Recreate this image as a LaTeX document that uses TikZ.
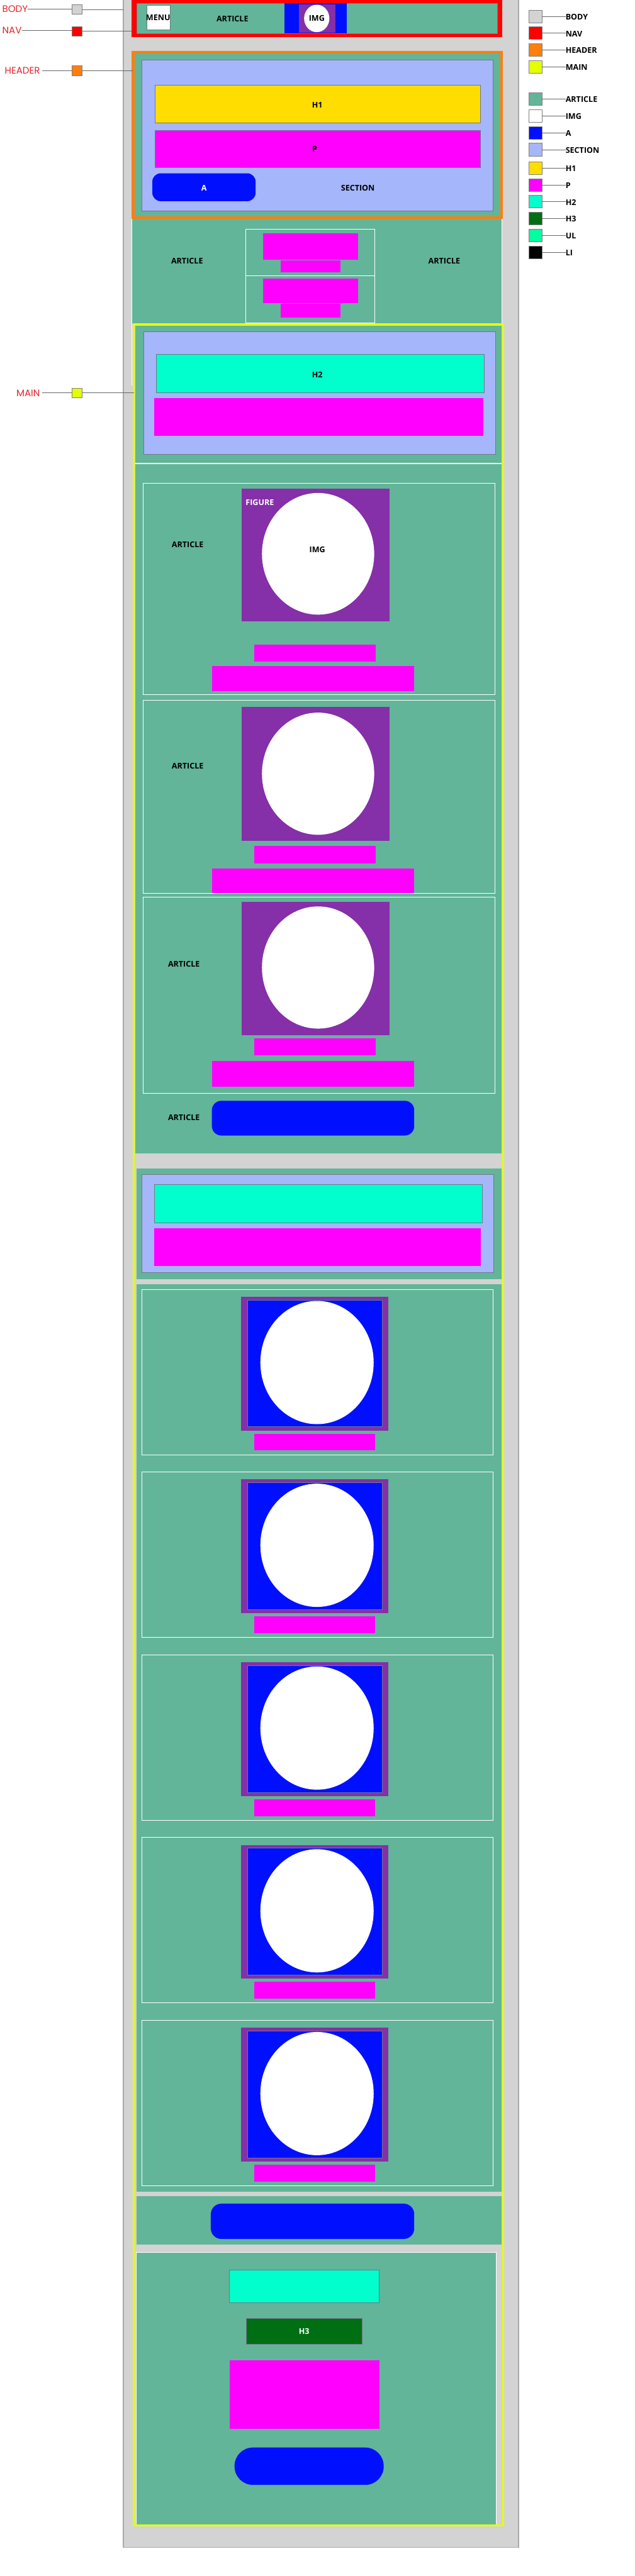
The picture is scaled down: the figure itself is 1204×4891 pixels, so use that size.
\documentclass[tikz,border=0pt]{standalone}
\usepackage{fontspec}
\setmainfont{Open Sans}
\newfontfamily\labfont{Poppins}
\usetikzlibrary{shapes.geometric}
\definecolor{bodyc}{HTML}{D3D3D3}
\definecolor{bodyline}{HTML}{A9A9A9}
\definecolor{navc}{HTML}{FF0000}
\definecolor{headc}{HTML}{FF7F0E}
\definecolor{mainc}{HTML}{E5FF00}
\definecolor{artc}{HTML}{62B598}
\definecolor{ac}{HTML}{0010FF}
\definecolor{secc}{HTML}{A6B6FB}
\definecolor{hac}{HTML}{FFDD00}
\definecolor{pc}{HTML}{FF00FF}
\definecolor{hbc}{HTML}{00FFCC}
\definecolor{hcc}{HTML}{006F14}
\definecolor{ulc}{HTML}{00FFA0}
\definecolor{figc}{HTML}{852FA8}
\definecolor{edge}{HTML}{707888}
\definecolor{labred}{HTML}{E3242B}
\tikzset{
  blk/.style={rectangle, inner sep=0pt, outer sep=0pt},
  thin edge/.style={draw=edge, line width=0.6pt},
  lbl/.style={font=\bfseries\fontsize{15}{18}\selectfont, text=black, inner sep=0pt},
  sidelbl/.style={font=\labfont\fontsize{18}{20}\selectfont, text=labred, inner sep=0pt},
  sub/.style={draw=white, line width=1.2pt},
  oval/.style={ellipse, fill=white, inner sep=0pt, outer sep=0pt},
  conn/.style={draw=gray!80!black, line width=0.8pt},
  legbox/.style={blk, draw=gray, line width=0.8pt, minimum width=24pt, minimum height=24pt},
}
\newcommand\bx[6]{\node[blk,#2,minimum width={(#5)-(#3)},minimum height={(#6)-(#4)}] (#1) at ({(#3+#5)/2},{(#4+#6)/2}) {};}
\newcommand\ov[5]{\node[oval,minimum width={(#4)-(#2)},minimum height={(#5)-(#3)}] (#1) at ({(#2+#4)/2},{(#3+#5)/2}) {};}
\begin{document}
\begin{tikzpicture}[x=1pt,y=-1pt]
\useasboundingbox (0,0) rectangle (1204,4891);
\fill[white] (0,0) rectangle (1204,4891);
% BODY
\bx{body}{fill=bodyc,draw=bodyline,line width=1.5pt}{234}{-3}{984}{4837}
% NAV
\bx{nav}{fill=navc}{250}{-1}{953}{70}
\bx{navart}{fill=artc,thin edge}{259}{6}{944}{63}
\bx{menu}{fill=white,thin edge}{278}{10}{323}{56}
\node[lbl] (menut) at (300,33) {MENU};
\node[lbl] (navartt) at (441,36) {ARTICLE};
\bx{nava}{fill=ac}{540}{6}{658}{63}
\bx{navfig}{fill=figc}{567}{8}{637}{62}
\ov{navimg}{577}{9}{625}{61}
\node[lbl] (navimgt) at (601,35) {IMG};
% HEADER
\bx{header}{fill=artc,draw=headc,line width=5pt}{252.5}{99.5}{951.5}{413.5}
\bx{hsec}{fill=secc,thin edge}{269}{114}{935}{400}
\bx{hh1}{fill=hac,thin edge}{294}{162}{911}{233}
\node[lbl] (hh1t) at (602,199) {H1};
\bx{hp}{fill=pc,thin edge}{294}{247}{911}{318}
\node[lbl] (hpt) at (597,283) {P};
\bx{ha}{fill=ac,rounded corners=16pt}{289}{329}{485}{382}
\node[lbl,text=white] (hat) at (387,357) {A};
\node[lbl] (hsect) at (679,357) {SECTION};
% article after header
\bx{art0}{fill=artc}{250}{416}{952}{615}
\draw[white,line width=1.2pt] (250,416) -- (250,732);
\draw[white,line width=1.2pt] (952,416) -- (952,615);
\node[lbl] (art0l) at (355,495) {ARTICLE};
\node[lbl] (art0r) at (843,495) {ARTICLE};
\bx{m1}{sub}{466}{435}{711}{524}
\bx{m2}{sub}{466}{524}{711}{613}
\bx{m1a}{fill=pc}{499}{443}{680}{493}
\bx{m1b}{fill=pc}{532}{494}{646}{517}
\bx{m2a}{fill=pc}{499}{529}{680}{576}
\bx{m2b}{fill=pc}{532}{577}{646}{603}
% MAIN articles
\bx{a1}{fill=artc}{257}{618}{952}{880}
\bx{a1sec}{fill=secc,thin edge}{272}{629}{940}{862}
\bx{a1h2}{fill=hbc,thin edge}{297}{673}{919}{745}
\node[lbl] (a1h2t) at (602,712) {H2};
\bx{a1p}{fill=pc}{293}{756}{917}{828}
\draw[white,line width=1.5pt] (257,880) -- (952,880);
\bx{a2}{fill=artc}{257}{881}{952}{2190}
% sub articles with figures
\bx{s1}{sub}{272}{918}{939}{1319}
\bx{s1fig}{fill=figc}{459}{928}{739}{1180}
\ov{s1img}{497}{936}{710}{1167}
\node[lbl,text=white,anchor=west] (s1figt) at (466,954) {FIGURE};
\node[lbl] (s1imgt) at (602,1044) {IMG};
\node[lbl] (s1t) at (356,1034) {ARTICLE};
\bx{s1pa}{fill=pc}{483}{1224}{713}{1256}
\bx{s1pb}{fill=pc}{402}{1265}{786}{1312}
\bx{s2}{sub}{272}{1330}{939}{1696}
\bx{s2fig}{fill=figc}{459}{1342}{739}{1596}
\ov{s2img}{497}{1353}{710}{1585}
\node[lbl] (s2t) at (356,1454) {ARTICLE};
\bx{s2pa}{fill=pc}{483}{1606}{713}{1639}
\bx{s2pb}{fill=pc}{402}{1649}{786}{1696}
\bx{s3}{sub}{272}{1703}{939}{2076}
\bx{s3fig}{fill=figc}{459}{1712}{739}{1965}
\ov{s3img}{497}{1721}{710}{1953}
\node[lbl] (s3t) at (349,1830) {ARTICLE};
\bx{s3pa}{fill=pc}{483}{1972}{713}{2004}
\bx{s3pb}{fill=pc}{402}{2015}{786}{2063}
\node[lbl] (a2t) at (349,2122) {ARTICLE};
\bx{a2bar}{fill=ac,rounded corners=18pt}{402}{2090}{786}{2156}
% second section article
\bx{a3}{fill=artc}{259}{2218}{952}{2429}
\bx{a3sec}{fill=secc,thin edge}{269}{2230}{936}{2416}
\bx{a3h2}{fill=hbc,thin edge}{293}{2249}{915}{2322}
\bx{a3p}{fill=pc}{293}{2332}{912}{2404}
% five figure articles
\bx{a4}{fill=artc}{259}{2438}{952}{4161}
\foreach \k in {0,...,4}{
  \pgfmathsetmacro\t{2448+347*\k}
  \bx{q\k}{sub}{269}{\t}{936}{\t+314}
  \bx{q\k fig}{fill=figc}{457}{\t+14}{737}{\t+268}
  \bx{q\k a}{fill=ac,thin edge}{470}{\t+20}{725}{\t+261}
  \ov{q\k img}{494}{\t+22}{709}{\t+256}
  \bx{q\k p}{fill=pc}{482}{\t+274}{712}{\t+306}
}
\bx{a5}{fill=artc}{259}{4170}{952}{4262}
\bx{a5bar}{fill=ac,rounded corners=20pt}{400}{4184}{786}{4251}
\bx{a6}{fill=artc,draw=white,line width=1.2pt}{259}{4277}{941}{4794}
\bx{a6ul}{fill=hbc,thin edge}{435}{4310}{719}{4372}
\bx{a6h3}{fill=hcc,thin edge}{467}{4402}{687}{4451}
\node[lbl,text=white] (a6h3t) at (577,4427) {H3};
\bx{a6p}{fill=pc}{436}{4481}{720}{4612}
\bx{a6a}{fill=ac,rounded corners=35pt}{445}{4647}{728}{4718}
% MAIN border
\bx{main}{draw=mainc,line width=4pt}{254}{616}{955}{4795}
% left labels
\node[sidelbl,anchor=west] (lbody) at (4,17) {BODY};
\node[sidelbl,anchor=west] (lnav) at (4,58) {NAV};
\node[sidelbl,anchor=east] (lhead) at (76,134) {HEADER};
\node[sidelbl,anchor=east] (lmain) at (76,746) {MAIN};
\bx{kbody}{fill=bodyc,draw=gray,line width=0.6pt}{137}{9}{156}{27}
\bx{knav}{fill=navc,draw=gray,line width=0.6pt}{137}{50}{156}{68}
\bx{khead}{fill=headc,draw=gray,line width=0.6pt}{137}{125}{156}{143}
\bx{kmain}{fill=mainc,draw=gray,line width=0.6pt}{137}{737}{156}{755}
\coordinate (ebody) at (234,18);
\coordinate (enav) at (250,59);
\coordinate (ehead) at (252,134);
\coordinate (emain) at (254,746);
\draw[conn] (lbody.east) -- (kbody.west|-lbody.east);
\draw[conn] (kbody.east|-ebody) -- (ebody);
\draw[conn] (lnav.east) -- (knav.west|-lnav.east);
\draw[conn] (knav.east|-enav) -- (enav);
\draw[conn] ([xshift=4pt]lhead.east) -- (khead.west|-lhead.east);
\draw[conn] (khead.east|-ehead) -- (ehead);
\draw[conn] ([xshift=4pt]lmain.east) -- (kmain.west|-lmain.east);
\draw[conn] (kmain.east|-emain) -- (emain);
% right legend
\foreach \i/\nm/\col/\yc in {1/BODY/bodyc/31, 2/NAV/navc/63, 3/HEADER/headc/95, 4/MAIN/mainc/127,
  5/ARTICLE/artc/188, 6/IMG/white/220, 7/A/ac/252, 8/SECTION/secc/284, 9/H1/hac/319,
  10/P/pc/351, 11/H2/hbc/383, 12/H3/hcc/415, 13/UL/ulc/447, 14/LI/black/479}{
  \node[legbox,fill=\col] (lg\i) at (1016,\yc) {};
  \node[lbl,anchor=west] (lgt\i) at (1073,\yc+1) {\nm};
  \draw[conn] (lg\i.east) -- (lgt\i.west|-lg\i.east);
}
\end{tikzpicture}
\end{document}
